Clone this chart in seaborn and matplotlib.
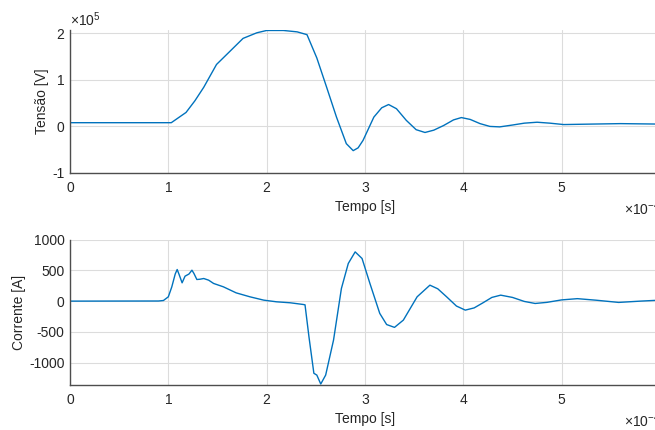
import numpy as np
import pandas as pd
import matplotlib
matplotlib.use("Agg")
import matplotlib.pyplot as plt
from matplotlib.ticker import ScalarFormatter
import seaborn as sns

# ---- data (time in units of 1e-4 s) ----
t_v_e4 = [0.0, 0.5, 1.03, 1.18, 1.27, 1.36, 1.49, 1.63, 1.76, 1.90, 2.00, 2.17,
          2.31, 2.41, 2.51, 2.61, 2.71, 2.81, 2.88, 2.93, 2.98, 3.09, 3.17, 3.24,
          3.32, 3.42, 3.52, 3.61, 3.70, 3.80, 3.90, 3.98, 4.07, 4.17, 4.27, 4.37,
          4.50, 4.62, 4.75, 4.88, 5.02, 5.30, 5.60, 6.00]
tensao_e5 = [0.08, 0.08, 0.08, 0.30, 0.55, 0.84, 1.33, 1.62, 1.89, 2.01, 2.06, 2.06,
             2.03, 1.97, 1.47, 0.84, 0.20, -0.37, -0.52, -0.46, -0.30, 0.20, 0.40, 0.47,
             0.38, 0.13, -0.07, -0.13, -0.08, 0.02, 0.14, 0.19, 0.15, 0.06, 0.00, -0.01,
             0.03, 0.07, 0.09, 0.07, 0.04, 0.05, 0.06, 0.05]

t_i_e4 = [0.0, 0.90, 0.95, 1.00, 1.035, 1.07, 1.09, 1.11, 1.14, 1.17, 1.21, 1.24,
          1.26, 1.29, 1.32, 1.36, 1.41, 1.46, 1.56, 1.69, 1.83, 1.97, 2.10, 2.24,
          2.37, 2.39, 2.43, 2.48, 2.51, 2.55, 2.60, 2.68, 2.76, 2.83, 2.90, 2.97,
          3.05, 3.15, 3.22, 3.30, 3.39, 3.53, 3.66, 3.74, 3.83, 3.93, 4.02, 4.11,
          4.20, 4.29, 4.38, 4.50, 4.62, 4.73, 4.85, 5.00, 5.16, 5.35, 5.58, 5.80, 6.00]
corrente = [0, 2, 10, 70, 230, 440, 513, 430, 297, 405, 440, 502,
            450, 351, 355, 367, 340, 287, 232, 134, 70, 16, -11, -27,
            -54, -60, -578, -1171, -1200, -1345, -1200, -632, 205, 611, 799, 692,
            287, -199, -380, -426, -308, 70, 259, 200, 70, -80, -146, -110,
            -27, 60, 97, 60, -5, -38, -20, 20, 40, 15, -21, 0, 16]

xticks_e4 = [0, 1, 2, 3, 4, 5, 6]
v_yticks_e5 = [-1, 0, 1, 2]
i_yticks = [-1000, -500, 0, 500, 1000]

df_v = pd.DataFrame({"t": np.array(t_v_e4) * 1e-4, "v": np.array(tensao_e5) * 1e5})
df_i = pd.DataFrame({"t": np.array(t_i_e4) * 1e-4, "i": corrente})

sns.set_style("white")
plt.rcParams["font.family"] = ["Liberation Sans", "DejaVu Sans"]
plt.rcParams["mathtext.fontset"] = "custom"
plt.rcParams["mathtext.rm"] = "Liberation Sans"
plt.rcParams["mathtext.it"] = "Liberation Sans"
plt.rcParams["axes.unicode_minus"] = False
plt.rcParams["font.size"] = 10


class PlainSciFormatter(ScalarFormatter):
    """Scientific offset text (x10^n) but tick labels in plain text with hyphen minus."""
    def __call__(self, x, pos=None):
        v = x / (10.0 ** self.orderOfMagnitude)
        if abs(v) < 1e-12:
            v = 0.0
        return "%g" % v


TXT = "#262626"
AX = "#4d4d4d"
GRID = "#dcdcdc"
LINE = "#0072BD"
FS = 10

fig = plt.figure(figsize=(6.55, 4.30), dpi=100)
fig.patch.set_facecolor("white")
ax1 = fig.add_axes([70 / 655, 1 - 173 / 430, 590 / 655, 143 / 430])
ax2 = fig.add_axes([70 / 655, 1 - 385 / 430, 590 / 655, 145.5 / 430])

sns.lineplot(data=df_v, x="t", y="v", ax=ax1, color=LINE, linewidth=1.0, estimator=None)
sns.lineplot(data=df_i, x="t", y="i", ax=ax2, color=LINE, linewidth=1.0, estimator=None)

for ax in (ax1, ax2):
    fx = PlainSciFormatter(useMathText=True)
    fx.set_powerlimits((0, 0))
    ax.xaxis.set_major_formatter(fx)
fy = PlainSciFormatter(useMathText=True)
fy.set_powerlimits((0, 0))
ax1.yaxis.set_major_formatter(fy)

ax1.set_xlim(0, 6e-4)
ax1.set_ylim(-1e5, 2.07e5)
ax1.set_xticks(np.array(xticks_e4) * 1e-4)
ax1.set_yticks(np.array(v_yticks_e5) * 1e5)
ax1.set_ylabel("Tensão [V]", color=TXT, fontsize=FS, labelpad=2)
ax1.set_xlabel("Tempo [s]", color=TXT, fontsize=FS, labelpad=3)

ax2.set_xlim(0, 6e-4)
ax2.set_ylim(-1361, 1000)
ax2.set_xticks(np.array(xticks_e4) * 1e-4)
ax2.set_yticks(i_yticks)
ax2.set_ylabel("Corrente [A]", color=TXT, fontsize=FS, labelpad=2)
ax2.set_xlabel("Tempo [s]", color=TXT, fontsize=FS, labelpad=3)

for ax in (ax1, ax2):
    ax.set_facecolor("white")
    ax.grid(True, color=GRID, linewidth=0.8)
    ax.set_axisbelow(True)
    for s in ("top", "right"):
        ax.spines[s].set_visible(False)
    for s in ("left", "bottom"):
        ax.spines[s].set_color(AX)
        ax.spines[s].set_linewidth(1.0)
    ax.tick_params(direction="in", length=4, width=0.8, color=AX,
                   labelcolor=TXT, labelsize=FS)
    ax.tick_params(axis="x", pad=6)
    ax.tick_params(axis="y", pad=4)
    ax.xaxis.get_offset_text().set_color(TXT)
    ax.xaxis.get_offset_text().set_fontsize(FS)
    ax.yaxis.get_offset_text().set_color(TXT)
    ax.yaxis.get_offset_text().set_fontsize(FS)

fig.savefig("out.png", dpi=100, facecolor="white")
